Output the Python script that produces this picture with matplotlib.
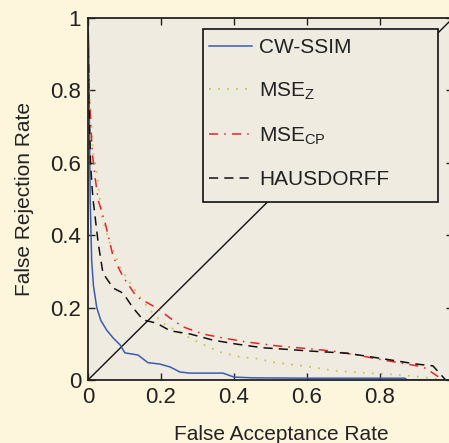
import matplotlib
matplotlib.use("Agg")
import matplotlib.pyplot as plt
from matplotlib.patches import Rectangle

# CW-SSIM (blue solid)
cw_x = [0.0, 0.002, 0.004, 0.006, 0.01, 0.015, 0.024, 0.035, 0.051, 0.069, 0.088, 0.101, 0.137, 0.164, 0.197, 0.225, 0.252, 0.28, 0.37, 0.40, 0.45, 0.60, 0.75, 0.868, 0.875, 1.0]
cw_y = [1.0, 0.90, 0.70, 0.50, 0.33, 0.26, 0.20, 0.165, 0.138, 0.116, 0.097, 0.075, 0.069, 0.048, 0.044, 0.036, 0.022, 0.019, 0.019, 0.008, 0.006, 0.005, 0.005, 0.005, 0.0, 0.0]

# MSE_Z (yellow dotted)
mz_x = [0.0, 0.004, 0.010, 0.016, 0.025, 0.030, 0.035, 0.038, 0.06, 0.088, 0.115, 0.142, 0.17, 0.205, 0.252, 0.307, 0.362, 0.416, 0.471, 0.50, 0.59, 0.68, 0.77, 0.86, 0.94, 0.973]
mz_y = [1.0, 0.80, 0.68, 0.61, 0.57, 0.52, 0.48, 0.45, 0.378, 0.312, 0.268, 0.23, 0.193, 0.157, 0.13, 0.102, 0.077, 0.064, 0.058, 0.05, 0.039, 0.025, 0.019, 0.014, 0.005, 0.0]

# MSE_CP (red dash-dot)
mc_x = [0.0, 0.003, 0.008, 0.012, 0.020, 0.028, 0.047, 0.069, 0.096, 0.133, 0.188, 0.225, 0.26, 0.315, 0.37, 0.435, 0.52, 0.608, 0.67, 0.737, 0.81, 0.874, 0.918, 0.945, 0.973]
mc_y = [1.0, 0.80, 0.70, 0.625, 0.555, 0.497, 0.434, 0.34, 0.285, 0.23, 0.199, 0.171, 0.147, 0.127, 0.116, 0.105, 0.094, 0.086, 0.08, 0.069, 0.055, 0.044, 0.036, 0.019, 0.0]

# HAUSDORFF (black dashed)
hd_x = [0.0, 0.002, 0.007, 0.011, 0.014, 0.028, 0.041, 0.069, 0.096, 0.123, 0.151, 0.188, 0.225, 0.28, 0.343, 0.408, 0.48, 0.526, 0.608, 0.71, 0.80, 0.90, 0.945, 0.98]
hd_y = [1.0, 0.78, 0.60, 0.535, 0.497, 0.378, 0.295, 0.254, 0.24, 0.2, 0.166, 0.157, 0.136, 0.127, 0.11, 0.099, 0.089, 0.086, 0.08, 0.074, 0.06, 0.044, 0.039, 0.0]

# Equal error line
eer_x = [0.0, 1.0]
eer_y = [0.0, 1.0]

labels = ["CW-SSIM", r"MSE$_\mathregular{Z}$", r"MSE$_\mathregular{CP}$", "HAUSDORFF"]
xticks = [0, 0.2, 0.4, 0.6, 0.8, 1]
xticklabels = ["0", "0.2", "0.4", "0.6", "0.8", "1"]

plt.rcParams['font.family'] = ['Liberation Sans', 'DejaVu Sans']
plt.rcParams['mathtext.fontset'] = 'custom'
plt.rcParams['mathtext.rm'] = 'Liberation Sans'

W, H = 449, 443
fig = plt.figure(figsize=(W / 100, H / 100), dpi=100, facecolor='#fdf5dc')
ax = fig.add_axes([88 / W, 63 / H, 365 / W, 362 / H])
ax.set_facecolor('#f0ebe1')

ax.plot(eer_x, eer_y, color='#111111', lw=1.0)
l1, = ax.plot(cw_x, cw_y, color='#3a5cb0', lw=1.1, label=labels[0])
l2, = ax.plot(mz_x, mz_y, color='#c8c850', lw=1.3, linestyle=(0, (1, 4)), label=labels[1])
l3, = ax.plot(mc_x, mc_y, color='#ee2222', lw=1.1, linestyle=(0, (6, 4, 1, 4)), label=labels[2])
l4, = ax.plot(hd_x, hd_y, color='#111111', lw=1.1, linestyle=(0, (6, 4)), label=labels[3])

ax.set_xlim(0, 1)
ax.set_ylim(0, 1)
ax.set_xticks(xticks)
ax.set_xticklabels(xticklabels)
ax.set_yticks(xticks)
ax.set_yticklabels(xticklabels)
ax.tick_params(direction='in', top=True, right=True, length=5, width=1, labelsize=16, colors='#222222', pad=5)
for s in ax.spines.values():
    s.set_linewidth(1.3)
    s.set_color('#222222')

ax.set_xlabel("False Acceptance Rate", fontsize=15, color='#222222')
ax.xaxis.set_label_coords((281 - 88) / 365, -0.125)
ax.set_ylabel("False Rejection Rate", fontsize=15, color='#222222', labelpad=12)

# legend box (MATLAB-style, wider than its contents)
box = Rectangle((203 / W, 1 - 202 / H), 235 / W, 173 / H, transform=fig.transFigure,
                facecolor='#f0ebe1', edgecolor='#111111', lw=1.2, zorder=4, clip_on=False)
ax.add_patch(box)

leg = ax.legend(handles=[l1, l2, l3, l4], loc='upper left',
                bbox_to_anchor=(209 / W, 1 - 38 / H), bbox_transform=fig.transFigure,
                fontsize=15, frameon=False, handlelength=2.05,
                labelspacing=1.12, borderpad=0, handletextpad=0.35, borderaxespad=0)
leg.set_zorder(5)
for t in leg.get_texts():
    t.set_color('#222222')

fig.savefig('out.png', dpi=100, facecolor=fig.get_facecolor())
